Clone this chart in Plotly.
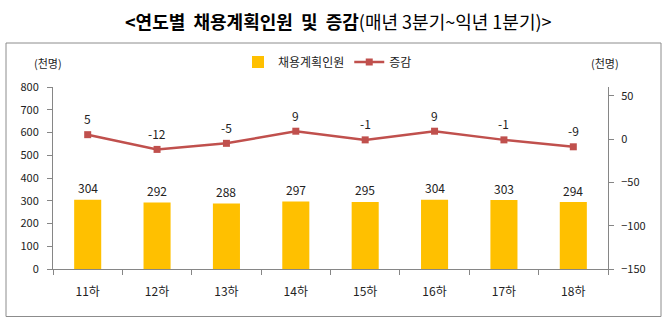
import plotly.graph_objects as go

categories = ["11하", "12하", "13하", "14하", "15하", "16하", "17하", "18하"]
planned = [304, 292, 288, 297, 295, 304, 303, 294]
change = [5, -12, -5, 9, -1, 9, -1, -9]
left_ticks = [0, 100, 200, 300, 400, 500, 600, 700, 800]
right_ticks = [-150, -100, -50, 0, 50]

FONT = "Noto Sans CJK KR, Noto Sans, sans-serif"
AXC = "#868686"
TXT = "#222222"

W, H = 671, 326
L, R, T, B = 53, 63, 87, 57
pw, ph = W - L - R, H - T - B

def px(x):
    return (x - L) / pw

def py(y):
    return (H - B - y) / ph

fig = go.Figure()
fig.add_trace(go.Bar(
    x=categories, y=planned, name="채용계획인원",
    marker=dict(color="#FFC000", line=dict(width=0)),
    yaxis="y", width=0.39,
))
fig.add_trace(go.Scatter(
    x=categories, y=change, name="증감", mode="lines+markers",
    line=dict(color="#C0504D", width=2.5),
    marker=dict(symbol="square", size=7, color="#C0504D"),
    yaxis="y2",
))

annotations = []
for c, v in zip(categories, planned):
    annotations.append(dict(x=c, y=v, xref="x", yref="y", text=str(v), showarrow=False,
                            yanchor="middle", yshift=12, font=dict(size=12, color=TXT, family=FONT)))
for c, v in zip(categories, change):
    annotations.append(dict(x=c, y=v, xref="x", yref="y2", text=str(v), showarrow=False,
                            yanchor="middle", yshift=16, font=dict(size=12, color=TXT, family=FONT)))

annotations.append(dict(
    x=px(338), y=py(21), xref="paper", yref="paper", xanchor="center", yanchor="middle",
    showarrow=False,
    text="<b>&lt;연도별&nbsp;&nbsp;채용계획인원&nbsp;&nbsp;및&nbsp;&nbsp;증감</b>(매년 3분기~익년 1분기)&gt;",
    font=dict(size=18, color="#000000", family=FONT),
))
annotations.append(dict(x=px(48), y=py(63), xref="paper", yref="paper", xanchor="center",
                        yanchor="middle", showarrow=False, text="(천명)",
                        font=dict(size=11, color=TXT, family=FONT)))
annotations.append(dict(x=px(605), y=py(63), xref="paper", yref="paper", xanchor="center",
                        yanchor="middle", showarrow=False, text="(천명)",
                        font=dict(size=11, color=TXT, family=FONT)))

fig.update_layout(
    width=W, height=H,
    margin=dict(l=L, r=R, t=T, b=B, pad=0),
    paper_bgcolor="white", plot_bgcolor="white",
    font=dict(family=FONT, size=12, color=TXT),
    showlegend=True,
    legend=dict(orientation="h", x=px(238), y=py(62), xanchor="left", yanchor="middle",
                font=dict(size=12, color=TXT, family=FONT), bgcolor="rgba(0,0,0,0)",
                itemwidth=30, tracegroupgap=0),
    xaxis=dict(type="category", range=[-0.5, 7.5], showline=True, linecolor=AXC, linewidth=1,
               ticks="outside", ticklen=5, tickcolor=AXC, tickson="boundaries",
               showgrid=False, zeroline=False, ticklabelstandoff=12,
               tickfont=dict(size=12, color=TXT, family=FONT)),
    yaxis=dict(range=[0, 800], tickvals=left_ticks, showline=True, linecolor=AXC, linewidth=1,
               ticks="outside", ticklen=5, tickcolor=AXC, showgrid=False, zeroline=False,
               ticklabelstandoff=6, tickfont=dict(size=11, color=TXT, family=FONT)),
    yaxis2=dict(range=[-150, 60], tickvals=right_ticks, overlaying="y", side="right",
                showline=True, linecolor=AXC, linewidth=1, ticks="outside", ticklen=5,
                tickcolor=AXC, showgrid=False, zeroline=False, ticklabelstandoff=5,
                tickfont=dict(size=11, color=TXT, family=FONT)),
    annotations=annotations,
    shapes=[dict(type="rect", xref="paper", yref="paper",
                 x0=px(6), x1=px(661), y0=py(316.5), y1=py(43),
                 line=dict(color="#8C8C8C", width=1), fillcolor="rgba(0,0,0,0)", layer="below")],
)

fig.write_html("out.html")
